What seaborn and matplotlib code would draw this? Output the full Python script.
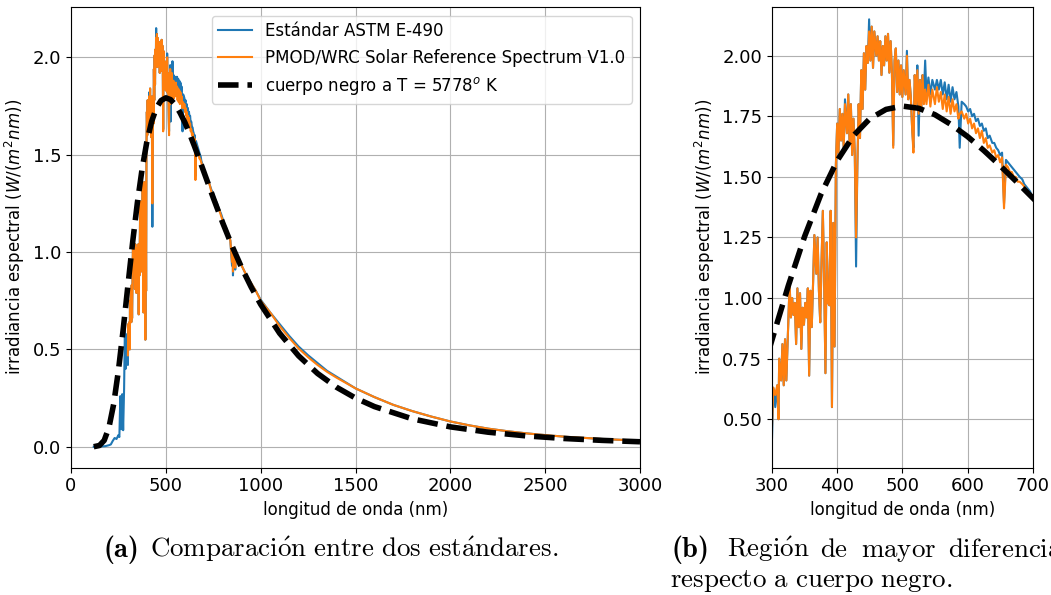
import matplotlib
matplotlib.use("Agg")
import matplotlib.pyplot as plt
import seaborn as sns

# ---------------------------------------------------------------------------
# Spectral irradiance at 1 AU, W/(m^2 nm), versus wavelength in nm
# ---------------------------------------------------------------------------

# ASTM E-490: ultraviolet part (only this standard covers it)
wl_uv = [120, 150, 180, 200, 210, 220, 230, 240, 250, 255,
         260, 265, 270, 275, 280, 284, 288, 293, 297]
astm_uv = [0.0, 0.001, 0.003, 0.008, 0.012, 0.03, 0.045, 0.04, 0.06, 0.05,
           0.26, 0.09, 0.27, 0.085, 0.30, 0.60, 0.40, 0.48, 0.58]

# visible range, shared by both standards
wl_vis = [300, 302, 305, 308, 310, 311, 314, 316, 318, 320,
          322, 325, 327, 329, 331, 333, 335, 337, 339, 341,
          343, 345, 347, 349, 351, 353, 355, 357, 359, 361,
          363, 365, 368, 370, 372, 374, 376, 378, 380, 382,
          384, 386, 388, 390, 392, 394, 396, 398, 400, 402,
          404, 406, 408, 410, 412, 415, 417, 419, 421, 423,
          425, 427, 429, 431, 433, 435, 437, 439, 441, 443,
          445, 447, 449, 451, 453, 455, 457, 460, 462, 464,
          466, 468, 470, 472, 474, 476, 478, 480, 482, 484,
          486, 488, 490, 492, 494, 496, 498, 500, 502, 505,
          507, 509, 511, 513, 515, 517, 519, 521, 523, 525,
          527, 529, 531, 533, 535, 537, 540, 543, 546, 550,
          553, 556, 559, 562, 565, 568, 571, 574, 577, 580,
          583, 586, 588, 591, 595, 598, 601, 604, 607, 610,
          613, 616, 619, 622, 625, 628, 631, 634, 638, 641,
          644, 647, 650, 653, 656, 659, 662, 665, 668, 671,
          674, 677, 680, 684, 687, 690, 693, 696, 700]

astm_vis = [0.42, 0.63, 0.55, 0.64, 0.50, 0.75, 0.66, 0.81, 0.64, 0.83,
            0.66, 0.90, 1.06, 0.92, 1.00, 0.93, 0.98, 0.81, 1.04, 0.88,
            1.02, 0.79, 0.96, 0.89, 0.98, 0.92, 1.04, 0.68, 1.03, 0.88,
            1.06, 1.26, 1.10, 1.25, 1.03, 0.90, 1.15, 1.36, 1.08, 0.69,
            1.23, 0.98, 0.97, 1.36, 0.55, 1.31, 0.80, 1.55, 1.72, 1.60,
            1.78, 1.65, 1.76, 1.62, 1.82, 1.68, 1.84, 1.64, 1.80, 1.59,
            1.74, 1.60, 1.13, 1.55, 1.80, 1.66, 1.94, 1.78, 2.01, 1.86,
            2.04, 1.97, 2.15, 1.98, 2.12, 1.95, 2.10, 2.00, 2.08, 1.98,
            2.06, 1.92, 2.04, 1.96, 2.08, 1.98, 2.09, 1.93, 2.06, 1.93,
            1.63, 1.98, 2.03, 1.85, 1.98, 1.84, 1.96, 1.83, 1.94, 1.84,
            2.02, 1.82, 1.90, 1.83, 1.70, 1.62, 1.92, 1.80, 1.96, 1.67,
            1.90, 1.78, 1.92, 1.84, 1.98, 1.84, 1.91, 1.84, 1.90, 1.86,
            1.90, 1.86, 1.90, 1.84, 1.89, 1.82, 1.88, 1.81, 1.87, 1.82,
            1.85, 1.79, 1.62, 1.81, 1.80, 1.79, 1.77, 1.78, 1.75, 1.76,
            1.73, 1.74, 1.71, 1.72, 1.69, 1.70, 1.66, 1.67, 1.64, 1.64,
            1.62, 1.61, 1.59, 1.60, 1.39, 1.57, 1.56, 1.55, 1.54, 1.53,
            1.52, 1.51, 1.50, 1.49, 1.47, 1.46, 1.45, 1.44, 1.41]

pmod_vis = [0.47, 0.63, 0.60, 0.64, 0.50, 0.75, 0.66, 0.81, 0.64, 0.83,
            0.66, 0.90, 1.06, 0.92, 1.00, 0.93, 0.98, 0.81, 1.04, 0.88,
            1.02, 0.79, 0.96, 0.89, 0.98, 0.92, 1.04, 0.68, 1.03, 0.88,
            1.06, 1.26, 1.10, 1.25, 1.03, 0.90, 1.15, 1.36, 1.08, 0.69,
            1.23, 0.98, 0.97, 1.36, 0.55, 1.31, 0.80, 1.55, 1.72, 1.60,
            1.78, 1.65, 1.76, 1.62, 1.80, 1.68, 1.84, 1.64, 1.80, 1.59,
            1.74, 1.60, 1.25, 1.55, 1.80, 1.66, 1.94, 1.78, 2.01, 1.86,
            2.04, 1.97, 2.10, 1.98, 2.12, 1.95, 2.10, 2.00, 2.08, 1.98,
            2.06, 1.92, 2.04, 1.96, 2.08, 1.98, 2.09, 1.93, 2.06, 1.93,
            1.62, 1.98, 2.03, 1.85, 1.98, 1.84, 1.96, 1.83, 1.94, 1.84,
            2.00, 1.82, 1.90, 1.83, 1.70, 1.60, 1.92, 1.80, 1.94, 1.76,
            1.90, 1.78, 1.92, 1.80, 1.86, 1.80, 1.88, 1.79, 1.86, 1.80,
            1.87, 1.81, 1.85, 1.78, 1.84, 1.77, 1.83, 1.76, 1.82, 1.77,
            1.80, 1.74, 1.76, 1.77, 1.74, 1.76, 1.72, 1.74, 1.70, 1.72,
            1.68, 1.70, 1.66, 1.69, 1.64, 1.66, 1.62, 1.63, 1.60, 1.61,
            1.58, 1.59, 1.56, 1.58, 1.37, 1.55, 1.54, 1.52, 1.52, 1.50,
            1.50, 1.48, 1.48, 1.47, 1.46, 1.45, 1.44, 1.43, 1.41]

# near infrared tail, shared by both standards
wl_ir = [703, 710, 720, 730, 740, 750, 760, 770, 780, 790,
         800, 810, 820, 830, 840, 849, 852, 854, 858, 866,
         870, 880, 900, 925, 950, 975, 1000, 1050, 1100, 1150,
         1200, 1250, 1300, 1350, 1400, 1500, 1600, 1700, 1800, 1900,
         2000, 2100, 2200, 2300, 2400, 2500, 2600, 2800, 3000]
astm_ir = [1.41, 1.40, 1.37, 1.35, 1.32, 1.30, 1.27, 1.25, 1.22, 1.20,
           1.17, 1.14, 1.12, 1.09, 1.06, 0.93, 1.02, 0.88, 1.01, 0.91,
           0.99, 0.97, 0.93, 0.88, 0.84, 0.80, 0.755, 0.69, 0.63, 0.57,
           0.515, 0.47, 0.43, 0.39, 0.36, 0.30, 0.255, 0.215, 0.183, 0.155,
           0.13, 0.11, 0.093, 0.08, 0.069, 0.06, 0.052, 0.04, 0.031]
pmod_ir = [1.40, 1.39, 1.36, 1.35, 1.31, 1.29, 1.27, 1.24, 1.22, 1.19,
           1.16, 1.14, 1.11, 1.09, 1.06, 0.95, 1.02, 0.90, 1.01, 0.92,
           0.99, 0.97, 0.93, 0.88, 0.84, 0.80, 0.75, 0.69, 0.62, 0.56,
           0.505, 0.46, 0.42, 0.385, 0.355, 0.30, 0.255, 0.215, 0.183, 0.155,
           0.13, 0.11, 0.093, 0.08, 0.069, 0.06, 0.052, 0.04, 0.031]

# black body at T = 5778 K seen from 1 AU
wl_bb = [120, 150, 175, 200, 225, 250, 275, 300, 325, 350,
         375, 400, 425, 450, 475, 500, 525, 550, 575, 600,
         625, 650, 675, 700, 750, 800, 850, 900, 950, 1000,
         1100, 1200, 1300, 1400, 1500, 1600, 1800, 2000, 2200, 2400,
         2600, 2800, 3000]
bb = [0.0003, 0.0066, 0.0326, 0.0990, 0.2192, 0.3914, 0.6011, 0.8275, 1.0505, 1.2539,
      1.4276, 1.5668, 1.6702, 1.7397, 1.7784, 1.7920, 1.7830, 1.7565, 1.7155, 1.6664,
      1.6087, 1.5462, 1.4805, 1.4132, 1.2789, 1.1497, 1.0292, 0.9192, 0.8201, 0.7315,
      0.5830, 0.4669, 0.3764, 0.3057, 0.2502, 0.2063, 0.1433, 0.1022, 0.0747, 0.0558,
      0.0424, 0.0328, 0.0257]

astm_wl = wl_uv + wl_vis + wl_ir
astm = astm_uv + astm_vis + astm_ir
pmod_wl = wl_vis + wl_ir
pmod = pmod_vis + pmod_ir

label_astm = "Estándar ASTM E-490"
label_pmod = "PMOD/WRC Solar Reference Spectrum V1.0"
label_bb = r"cuerpo negro a T = 5778$^o$ K"
xlabel = "longitud de onda (nm)"
ylabel = r"irradiancia espectral ($W/(m^2nm)$)"

BLUE = "#1f77b4"
ORANGE = "#ff7f0e"

fig = plt.figure(figsize=(10.51, 5.95), dpi=100)
fig.patch.set_facecolor("white")
W, H = 1051.0, 595.0
ax1 = fig.add_axes([71 / W, 1 - 467.7 / H, 569 / W, 460.5 / H])
ax2 = fig.add_axes([772 / W, 1 - 467.7 / H, 260.7 / W, 460.5 / H])


def draw(ax, with_labels):
    kw = dict(ax=ax, estimator=None, sort=False)
    sns.lineplot(x=astm_wl, y=astm, color=BLUE, lw=1.5,
                 label=label_astm if with_labels else None, **kw)
    sns.lineplot(x=pmod_wl, y=pmod, color=ORANGE, lw=1.5,
                 label=label_pmod if with_labels else None, **kw)
    sns.lineplot(x=wl_bb, y=bb, color="black", lw=4, linestyle="--",
                 label=label_bb if with_labels else None, **kw)
    ax.grid(True, color="#b0b0b0", lw=0.8)
    ax.set_axisbelow(True)
    ax.set_xlabel(xlabel, fontsize=12)
    ax.set_ylabel(ylabel, fontsize=12)
    ax.tick_params(labelsize=13, length=3.5, width=0.8)
    for s in ax.spines.values():
        s.set_linewidth(0.8)


draw(ax1, True)
ax1.set_xlim(0, 3000)
ax1.set_xticks([0, 500, 1000, 1500, 2000, 2500, 3000])
ax1.set_yticks([0.0, 0.5, 1.0, 1.5, 2.0])
ax1.legend(loc="upper right", fontsize=12)

draw(ax2, False)
leg = ax2.get_legend()
if leg is not None:
    leg.remove()
ax2.set_xlim(300, 700)
ax2.set_ylim(0.3, 2.2)
ax2.set_xticks([300, 400, 500, 600, 700])
ax2.set_yticks([0.5, 0.75, 1.0, 1.25, 1.5, 1.75, 2.0])

# sub-figure captions: bold tag in Computer Modern bold, body in CM roman
FS = 19.4
tag = dict(fontsize=20.5, family="cmb10", va="baseline", ha="left")
cap = dict(fontsize=FS, math_fontfamily="cm", va="baseline", ha="left")
y1 = 1 - 557 / H
y2 = 1 - 587 / H

fig.text(104 / W, y1, "(a)", **tag)
fig.text(150 / W, y1,
         r"$\mathrm{Comparaci\acute{o}n\ entre\ dos\ est\acute{a}ndares.}$", **cap)

fig.text(672 / W, y1, "(b)", **tag)
words_b = [(727, r"$\mathrm{Regi\acute{o}n}$"), (820, r"$\mathrm{de}$"),
           (861, r"$\mathrm{mayor}$"), (948, r"$\mathrm{diferencia}$")]
for x, w in words_b:
    fig.text(x / W, y1, w, **cap)
fig.text(670 / W, y2, r"$\mathrm{respecto\ a\ cuerpo\ negro.}$", **cap)

fig.savefig("out.png", dpi=100, facecolor="white")
